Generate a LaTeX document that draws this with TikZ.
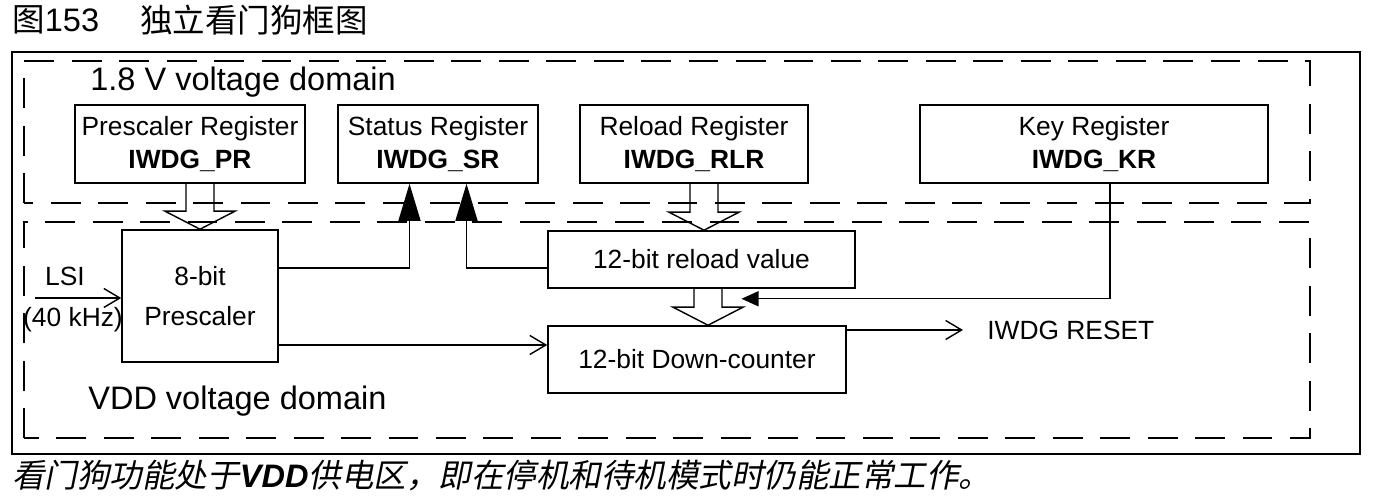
\documentclass[tikz,border=0pt]{standalone}
\usepackage{fontspec}
\setmainfont{Liberation Sans}
\newfontfamily\cjk{Noto Sans CJK SC}
\newfontfamily\cjkslant[FakeSlant=0.2]{Noto Sans CJK SC}
\usetikzlibrary{arrows.meta, positioning, calc}
\tikzset{
  regbox/.style={rectangle, draw, line width=0.9pt, align=center,
    minimum height=1.56cm, inner sep=0pt, font=\fontsize{15}{18.7}\selectfont},
  blockbox/.style={rectangle, draw, line width=0.9pt, align=center,
    inner sep=0pt, font=\fontsize{15}{22.7}\selectfont},
  domainbox/.style={draw, line width=0.9pt, dash pattern=on 17pt off 10pt},
  lbl/.style={font=\fontsize{15}{18}\selectfont, inner sep=0pt},
  bigtext/.style={font=\fontsize{18.5}{22}\selectfont, inner sep=0pt, anchor=west},
  wire/.style={line width=0.8pt},
  openarrow/.style={wire, -{Straight Barb[length=0.32cm, width=0.38cm]}},
  statusarrow/.style={wire, -{Triangle[length=0.74cm, width=0.44cm]}},
  keyarrow/.style={wire, -{Triangle[length=0.34cm, width=0.3cm]}}
}
% outline arrow from #1 straight down to its tip #2
\newcommand{\hollowarrow}[2]{%
  \draw[wire, line join=miter] ($(#1)+(-0.28,0)$) -- ($(#2)+(-0.28,0.36)$)
    -- ($(#2)+(-0.7,0.36)$) -- (#2) -- ($(#2)+(0.7,0.36)$)
    -- ($(#2)+(0.28,0.36)$) -- ($(#1)+(0.28,0)$);}

\begin{document}
\begin{tikzpicture}
\useasboundingbox (0,0) rectangle (27.46,9.94);

%--- title and caption ---
\node[bigtext] (fig) at (0.24,9.54) {{\cjk 图}153};
\node[bigtext] (title) at (2.8,9.54) {\cjk 独立看门狗框图};
\node[bigtext] (cap) at (0.24,0.42) {\cjkslant 看门狗功能处于{\rmfamily\bfseries\itshape VDD}供电区，即在停机和待机模式时仍能正常工作。};

%--- frame and voltage domains ---
\draw[line width=1pt] (0.24,0.86) rectangle (27.2,8.9);
\draw[domainbox] (0.48,5.88) rectangle (26.2,8.72);
\draw[domainbox] (0.48,1.18) rectangle (26.2,5.5);
\node[bigtext] (dom18) at (1.8,8.3) {1.8 V voltage domain};
\node[bigtext] (domvdd) at (1.76,1.92) {VDD voltage domain};

%--- registers ---
\node[regbox, minimum width=4.6cm] (PR) at (3.8,7.06) {Prescaler Register\\\textbf{IWDG\_PR}};
\node[regbox, minimum width=4.0cm] (SR) at (8.76,7.06) {Status Register\\\textbf{IWDG\_SR}};
\node[regbox, minimum width=4.56cm] (RR) at (13.88,7.06) {Reload Register\\\textbf{IWDG\_RLR}};
\node[regbox, minimum width=6.96cm] (KR) at (21.88,7.06) {Key Register\\\textbf{IWDG\_KR}};

%--- counter blocks ---
\node[blockbox, minimum width=3.12cm, minimum height=2.64cm] (PS) at (4.0,4.02) {8-bit\\Prescaler};
\node[blockbox, minimum width=6.14cm, minimum height=1.14cm] (RV) at (14.03,4.75) {12-bit reload value};
\node[blockbox, minimum width=5.96cm, minimum height=1.34cm] (DC) at (13.94,2.75) {12-bit Down-counter};

% clock input
\node[lbl] (LSI) at (1.3,4.42) {LSI};
\node[lbl] (freq) at (1.46,3.54) {(40 kHz)};
\coordinate (lsi) at (0.7,3.98);
\draw[openarrow] (lsi) -- (lsi -| PS.west);

% outline arrows
\coordinate (h1) at (PR.south -| PS.north);
\hollowarrow{h1}{PS.north}
\coordinate (h2tip) at ($(RV.north)+(0.05,0)$);
\coordinate (h2) at (RR.south -| h2tip);
\hollowarrow{h2}{h2tip}
\coordinate (h3tip) at ($(DC.north)+(0.22,0)$);
\coordinate (h3) at (RV.south -| h3tip);
\hollowarrow{h3}{h3tip}

% status flags
\coordinate (s1) at ($(SR.south)+(-0.57,0)$);
\coordinate (s2) at ($(SR.south)+(0.57,0)$);
\draw[statusarrow] ($(PS.east)+(0,0.56)$) -| (s1);
\draw[statusarrow] ($(RV.west)+(0,-0.17)$) -| (s2);

% key register to reload
\draw[keyarrow] ($(KR.south)+(0.32,0)$) |- ($(RV.south)+(0.8,-0.2)$);

% prescaler to counter, counter to reset
\coordinate (cin) at ($(DC.west)+(0,0.29)$);
\draw[openarrow] (PS.east |- cin) -- (cin);
\node[lbl, anchor=west] (RST) at (19.74,3.34) {IWDG RESET};
\draw[openarrow] (DC.east |- RST.west) -- ($(RST.west)+(-0.48,0)$);
\end{tikzpicture}
\end{document}
